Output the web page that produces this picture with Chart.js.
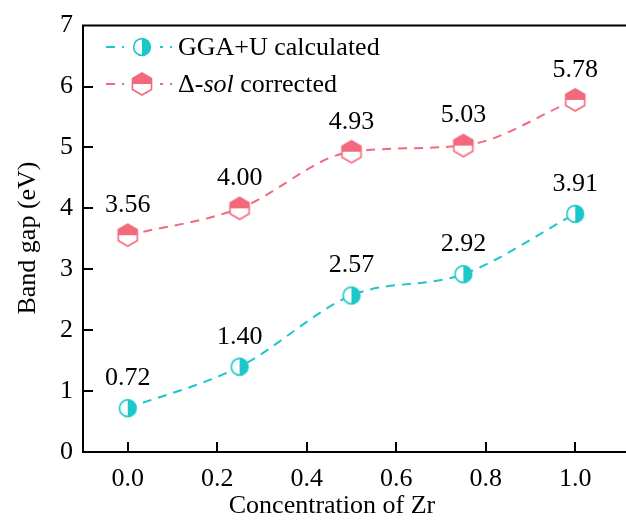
<!DOCTYPE html>
<html>
<head>
<meta charset="utf-8">
<script src="https://cdn.jsdelivr.net/npm/chart.js@4.4.1/dist/chart.umd.min.js"></script>
<style>
  html, body { margin: 0; padding: 0; background: #fff; }
  #wrap { width: 626px; height: 523px; }
</style>
</head>
<body>
<div id="wrap"><canvas id="c" width="626" height="523"></canvas></div>
<script>
// data
var concZr = [0, 0.25, 0.5, 0.75, 1.0];
var ggaU = [0.72, 1.40, 2.57, 2.92, 3.91];
var deltaSol = [3.56, 4.00, 4.93, 5.03, 5.78];
var xTicks = [0, 0.2, 0.4, 0.6, 0.8, 1.0];
var yTicks = [0, 1, 2, 3, 4, 5, 6, 7];

var CYAN = '#1cc7ca';
var PINK = '#f2697d';
var FONT = '"Liberation Serif", "Times New Roman", serif';
var FS = 26;

// half filled circle: left white, right filled
function makeCircle(){
	var c = document.createElement('canvas');
	c.width = 22; c.height = 22;
	var g = c.getContext('2d');
	var r = 8.4;
	g.fillStyle = '#fff';
	g.beginPath(); g.arc(11, 11, r, 0, Math.PI*2); g.fill();
	g.fillStyle = CYAN;
	g.beginPath(); g.arc(11, 11, r, -Math.PI/2, Math.PI/2); g.closePath(); g.fill();
	g.strokeStyle = CYAN; g.lineWidth = 1.6;
	g.beginPath(); g.arc(11, 11, r, 0, Math.PI*2); g.stroke();
	return c;
}

// hexagon, top half filled
function makeHex(){
	var c = document.createElement('canvas');
	c.width = 26; c.height = 28;
	var g = c.getContext('2d');
	var cx = 13, cy = 14, r = 11;
	var pts = [];
	for (var i = 0; i < 6; i++) {
		var a = -Math.PI/2 + i*Math.PI/3;
		pts.push([cx + r*Math.cos(a), cy + r*Math.sin(a)]);
	}
	function path(){
		g.beginPath();
		g.moveTo(pts[0][0], pts[0][1]);
		for (var i = 1; i < 6; i++) g.lineTo(pts[i][0], pts[i][1]);
		g.closePath();
	}
	g.fillStyle = '#fff'; path(); g.fill();
	g.save();
	g.beginPath(); g.rect(0, 0, 26, cy); g.clip();
	g.fillStyle = PINK; path(); g.fill();
	g.restore();
	g.strokeStyle = PINK; g.lineWidth = 1.6; path(); g.stroke();
	return c;
}

var circleImg = makeCircle();
var hexImg = makeHex();

var framePlugin = {
	id: 'frame',
	afterDraw: function(chart){
		var ctx = chart.ctx;
		var a = chart.chartArea;
		var xs = chart.scales.x, ys = chart.scales.y;
		ctx.save();
		ctx.strokeStyle = '#000';
		ctx.lineWidth = 2;
		ctx.beginPath();
		ctx.moveTo(chart.width, a.top); ctx.lineTo(a.left, a.top);
		ctx.lineTo(a.left, a.bottom); ctx.lineTo(chart.width, a.bottom);
		ctx.stroke();
		ctx.beginPath();
		yTicks.forEach(function(v){
			var y = Math.round(ys.getPixelForValue(v));
			if (v === 0 || v === 7) return;
			ctx.moveTo(a.left, y); ctx.lineTo(a.left + 10, y);
		});
		xTicks.forEach(function(v){
			var x = Math.round(xs.getPixelForValue(v));
			ctx.moveTo(x, a.bottom); ctx.lineTo(x, a.bottom - 10);
		});
		ctx.stroke();

		// axis titles
		ctx.fillStyle = '#000';
		ctx.font = FS + 'px ' + FONT;
		ctx.textAlign = 'center';
		ctx.textBaseline = 'middle';
		ctx.fillText('Concentration of Zr', 332, 506);
		ctx.save();
		ctx.translate(28, 238);
		ctx.rotate(-Math.PI/2);
		ctx.fillText('Band gap (eV)', 0, 0);
		ctx.restore();

		// legend
		var rows = [
			{ y: 47, color: CYAN, img: circleImg },
			{ y: 84, color: PINK, img: hexImg }
		];
		rows.forEach(function(r){
			ctx.strokeStyle = r.color;
			ctx.lineWidth = 2;
			ctx.setLineDash([9, 7]);
			ctx.beginPath(); ctx.moveTo(106, r.y); ctx.lineTo(172, r.y); ctx.stroke();
			ctx.setLineDash([]);
			ctx.fillStyle = '#fff';
			ctx.fillRect(124, r.y - 14, 36, 28);
			ctx.drawImage(r.img, 142 - r.img.width/2, r.y - r.img.height/2);
		});
		ctx.fillStyle = '#000';
		ctx.textAlign = 'left';
		ctx.font = FS + 'px ' + FONT;
		ctx.fillText('GGA+U calculated', 178, 48);
		var x = 178;
		ctx.fillText('\u0394-', x, 85);
		x += ctx.measureText('\u0394-').width;
		ctx.font = 'italic ' + FS + 'px ' + FONT;
		ctx.fillText('sol', x, 85);
		x += ctx.measureText('sol').width;
		ctx.font = FS + 'px ' + FONT;
		ctx.fillText(' corrected', x, 85);
		ctx.restore();
	},
	afterDatasetsDraw: function(chart){
		var ctx = chart.ctx;
		ctx.save();
		ctx.fillStyle = '#000';
		ctx.font = FS + 'px ' + FONT;
		ctx.textAlign = 'center';
		ctx.textBaseline = 'middle';
		chart.data.datasets.forEach(function(ds, i){
			var meta = chart.getDatasetMeta(i);
			meta.data.forEach(function(p, j){
				ctx.fillText(ds.data[j].y.toFixed(2), p.x, p.y - 30);
			});
		});
		ctx.restore();
	}
};

function pts(ys){
	return concZr.map(function(x, i){ return { x: x, y: ys[i] }; });
}

new Chart(document.getElementById('c'), {
	type: 'line',
	data: {
		datasets: [{
			label: 'GGA+U calculated',
			data: pts(ggaU),
			borderColor: CYAN,
			borderWidth: 2,
			borderDash: [9, 7],
			cubicInterpolationMode: 'monotone',
			pointStyle: circleImg,
			fill: false
		}, {
			label: '\u0394-sol corrected',
			data: pts(deltaSol),
			borderColor: PINK,
			borderWidth: 2,
			borderDash: [9, 7],
			cubicInterpolationMode: 'monotone',
			pointStyle: hexImg,
			fill: false
		}]
	},
	options: {
		responsive: false,
		animation: false,
		layout: { padding: { top: 22, right: 0 } },
		plugins: {
			legend: { display: false },
			tooltip: { enabled: false }
		},
		scales: {
			x: {
				type: 'linear',
				min: -0.1, max: 1.1,
				grid: { display: false, drawTicks: false },
				border: { display: false },
				afterBuildTicks: function(s){ s.ticks = xTicks.map(function(v){ return { value: v }; }); },
				afterFit: function(s){ s.height = 71; },
				ticks: {
					padding: 12,
					color: '#000',
					font: { family: FONT, size: FS },
					maxRotation: 0,
					callback: function(v){ return v.toFixed(1); }
				}
			},
			y: {
				min: 0, max: 7,
				grid: { display: false, drawTicks: false },
				border: { display: false },
				afterBuildTicks: function(s){ s.ticks = yTicks.map(function(v){ return { value: v }; }); },
				afterFit: function(s){ s.width = 83; },
				ticks: {
					padding: 10,
					color: '#000',
					font: { family: FONT, size: FS }
				}
			}
		}
	},
	plugins: [framePlugin]
});
</script>
</body>
</html>
